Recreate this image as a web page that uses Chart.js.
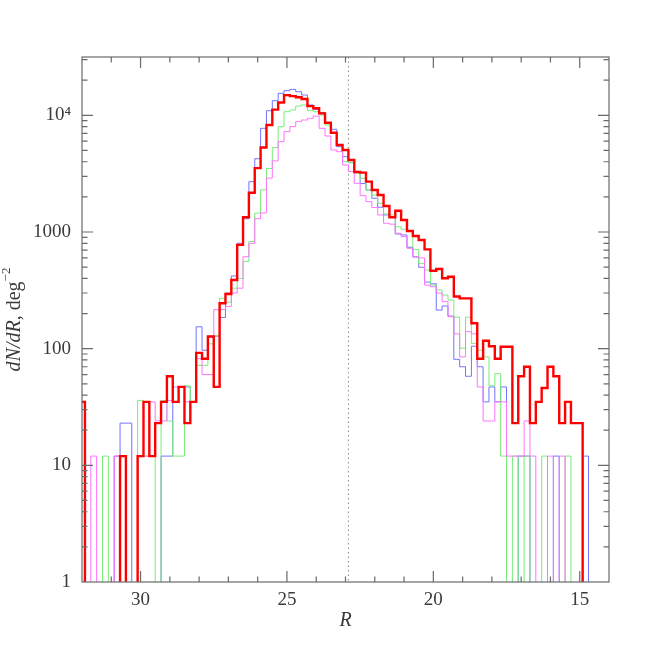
<!DOCTYPE html>
<html lang="en">
<head>
<meta charset="UTF-8">
<title>dN/dR vs R</title>
<script src="https://cdn.jsdelivr.net/npm/chart.js@4.4.1/dist/chart.umd.min.js"></script>
<style>
  body { margin: 0; background: #fff; }
  #wrap { width: 664px; height: 664px; }
</style>
</head>
<body>
<div id="wrap"><canvas id="chart"></canvas></div>
<script>
// bin centres (R, 0.2 mag bins)
const binCenters = [32.0, 31.8, 31.6, 31.4, 31.2, 31.0, 30.8, 30.6, 30.4, 30.2,
  30.0, 29.8, 29.6, 29.4, 29.2, 29.0, 28.8, 28.6, 28.4, 28.2,
  28.0, 27.8, 27.6, 27.4, 27.2, 27.0, 26.8, 26.6, 26.4, 26.2,
  26.0, 25.8, 25.6, 25.4, 25.2, 25.0, 24.8, 24.6, 24.4, 24.2,
  24.0, 23.8, 23.6, 23.4, 23.2, 23.0, 22.8, 22.6, 22.4, 22.2,
  22.0, 21.8, 21.6, 21.4, 21.2, 21.0, 20.8, 20.6, 20.4, 20.2,
  20.0, 19.8, 19.6, 19.4, 19.2, 19.0, 18.8, 18.6, 18.4, 18.2,
  18.0, 17.8, 17.6, 17.4, 17.2, 17.0, 16.8, 16.6, 16.4, 16.2,
  16.0, 15.8, 15.6, 15.4, 15.2, 15.0, 14.8, 14.6, 14.4, 14.2, 14.0];

// dN/dR, deg^-2
const redCounts = [35, 0, 0, 0, 0, 0, 0, 12, 0, 0,
  12, 35, 12, 23, 35, 58, 35, 47, 23, 35,
  92, 82, 127, 47, 245, 294, 388, 775, 1336, 2173,
  3530, 5300, 8260, 11200, 12900, 14900, 14600, 14300, 13800, 12000,
  11500, 10400, 8650, 7100, 5570, 5050, 4140, 3270, 3230, 2700,
  2290, 2075, 1670, 1336, 1523, 1268, 1020, 924, 854, 710,
  466, 482, 401, 414, 280, 270, 270, 165, 82, 117,
  105, 82, 104, 104, 23, 58, 70, 23, 35, 46,
  70, 58, 23, 35, 23, 23, 0, 0, 0, 0, 0];

const blueCounts = [0, 0, 0, 0, 0, 0, 12, 23, 23, 0,
  0, 0, 0, 0, 12, 12, 35, 47, 47, 35,
  154, 97, 128, 128, 185, 300, 420, 800, 1300, 2700,
  4250, 7740, 10960, 13360, 15440, 16260, 16700, 15950, 14930, 12270,
  11250, 10540, 8540, 7590, 5390, 4420, 3930, 3300, 2600, 2290,
  1945, 1630, 1400, 1355, 962, 943, 740, 610, 498, 372,
  360, 214, 232, 190, 81, 70, 58, 105, 70, 35,
  47, 35, 47, 0, 0, 12, 12, 0, 0, 0,
  0, 12, 0, 0, 0, 0, 12, 0, 0, 0, 0];

const greenCounts = [0, 0, 0, 0, 12, 0, 0, 0, 0, 0,
  36, 12, 12, 0, 36, 24, 12, 12, 48, 35,
  72, 72, 110, 130, 270, 250, 330, 400, 560, 830,
  1450, 2300, 3500, 5300, 8000, 10740, 11110, 12020, 12270, 10960,
  10740, 10070, 8260, 7010, 5570, 4010, 3950, 3200, 2880, 2290,
  2075, 1762, 1430, 1400, 1110, 1055, 1010, 710, 538, 472,
  351, 318, 288, 261, 186, 101, 186, 111, 97, 85,
  48, 61, 12, 0, 12, 0, 12, 0, 0, 12,
  0, 0, 0, 12, 0, 0, 0, 0, 0, 0, 0];

const magentaCounts = [0, 0, 12, 0, 0, 0, 12, 0, 0, 0,
  12, 12, 35, 24, 24, 36, 47, 47, 35, 35,
  82, 60, 60, 216, 216, 230, 300, 330, 614, 800,
  1300, 1460, 2900, 4070, 5950, 7240, 8000, 8830, 9120, 9420,
  9860, 7740, 6650, 5050, 4880, 3750, 3300, 2615, 2050, 1820,
  1620, 1400, 1188, 1167, 975, 912, 725, 615, 600, 351,
  340, 300, 253, 188, 134, 85, 140, 134, 47, 24,
  24, 35, 35, 12, 12, 12, 24, 12, 0, 0,
  12, 0, 12, 0, 0, 0, 0, 0, 0, 0, 0];

const xTickValues = [30, 25, 20, 15];
const yTickValues = [1, 10, 100, 1000, 10000];
const yTickLabels = ['1', '10', '100', '1000', '10⁴'];
const cutR = 22.9;           // dotted line
const xMin = 14, xMax = 32;
const yMin = 1, yMax = 31623;

// empty bins have no log value: send them below the axis so the step drops to the bottom
const emptyLevel = 0.1;
function toPoints(counts) {
  return binCenters.map((r, i) => ({ x: r, y: counts[i] > 0 ? counts[i] : emptyLevel }));
}

function histo(label, counts, color, width, order) {
  return {
    label: label,
    data: toPoints(counts),
    borderColor: color,
    borderWidth: width,
    stepped: 'middle',
    pointRadius: 0,
    fill: false,
    clip: 0,
    order: order
  };
}

const serif = '"Liberation Serif", "DejaVu Serif", serif';
const inkColor = '#3a3a3a';

// frame with inward ticks on all four sides, dotted cut line, y title
const frameTicks = {
  id: 'frameTicks',
  beforeDatasetsDraw(chart) {
    const { ctx, chartArea: a, scales: { x } } = chart;
    const cx = x.getPixelForValue(cutR);
    ctx.save();
    ctx.strokeStyle = '#8a8a8a';
    ctx.lineWidth = 1;
    ctx.setLineDash([1.5, 3]);
    ctx.beginPath();
    ctx.moveTo(cx, a.top);
    ctx.lineTo(cx, a.bottom);
    ctx.stroke();
    ctx.restore();
  },
  afterDatasetsDraw(chart) {
    const { ctx, chartArea: a, scales: { x, y } } = chart;
    ctx.save();
    ctx.strokeStyle = '#6a6a6a';
    ctx.lineWidth = 1.2;
    ctx.strokeRect(a.left, a.top, a.right - a.left, a.bottom - a.top);

    ctx.beginPath();
    for (let r = Math.ceil(xMin); r <= xMax; r++) {
      const px = x.getPixelForValue(r);
      if (px <= a.left + 1 || px >= a.right - 1) continue;
      const len = r % 5 === 0 ? 11 : 5.5;
      ctx.moveTo(px, a.bottom); ctx.lineTo(px, a.bottom - len);
      ctx.moveTo(px, a.top); ctx.lineTo(px, a.top + len);
    }
    for (let d = 1; d <= 10000; d *= 10) {
      for (let m = 1; m <= 9; m++) {
        const v = d * m;
        if (v > yMax) break;
        const py = y.getPixelForValue(v);
        if (py >= a.bottom - 1 || py <= a.top + 1) continue;
        const len = m === 1 ? 11 : 5.5;
        ctx.moveTo(a.left, py); ctx.lineTo(a.left + len, py);
        ctx.moveTo(a.right, py); ctx.lineTo(a.right - len, py);
      }
    }
    ctx.stroke();
    ctx.restore();
  },
  afterDraw(chart) {
    const { ctx, chartArea: a } = chart;
    const parts = [
      { t: 'dN/dR', f: 'italic 20px ' + serif, dy: 0 },
      { t: ', deg', f: '20px ' + serif, dy: 0 },
      { t: '−2', f: '13px ' + serif, dy: -8 }
    ];
    ctx.save();
    let total = 0;
    parts.forEach(p => { ctx.font = p.f; p.w = ctx.measureText(p.t).width; total += p.w; });
    ctx.translate(15, (a.top + a.bottom) / 2);
    ctx.rotate(-Math.PI / 2);
    ctx.fillStyle = inkColor;
    ctx.textBaseline = 'middle';
    let cur = -total / 2;
    parts.forEach(p => {
      ctx.font = p.f;
      ctx.fillText(p.t, cur, p.dy);
      cur += p.w;
    });
    ctx.restore();
  }
};

new Chart(document.getElementById('chart'), {
  type: 'line',
  data: {
    datasets: [
      histo('blue', blueCounts, '#7272ff', 1, 3),
      histo('green', greenCounts, '#78ec78', 1, 2),
      histo('magenta', magentaCounts, '#ff72ff', 1, 1),
      histo('red', redCounts, '#ff0000', 2.4, 0)
    ]
  },
  options: {
    responsive: true,
    maintainAspectRatio: false,
    animation: false,
    layout: { padding: { top: 57, right: 55, left: 0, bottom: 0 } },
    plugins: { legend: { display: false }, tooltip: { enabled: false } },
    scales: {
      x: {
        type: 'linear',
        reverse: true,
        min: xMin,
        max: xMax,
        grid: { display: false, drawTicks: false },
        border: { display: false },
        afterBuildTicks: s => { s.ticks = xTickValues.map(v => ({ value: v })); },
        afterFit: s => { s.height = 82; },
        ticks: {
          padding: 7,
          maxRotation: 0,
          color: inkColor,
          font: { family: serif, size: 19 },
          callback: v => String(v)
        },
        title: {
          display: true,
          text: 'R',
          color: inkColor,
          font: { family: serif, size: 20, style: 'italic' },
          padding: { top: 0, bottom: 31 }
        }
      },
      y: {
        type: 'logarithmic',
        min: yMin,
        max: yMax,
        grid: { display: false, drawTicks: false },
        border: { display: false },
        afterBuildTicks: s => { s.ticks = yTickValues.map(v => ({ value: v })); },
        afterFit: s => { s.width = 82; },
        ticks: {
          padding: 11,
          color: inkColor,
          font: { family: serif, size: 19 },
          callback: v => yTickLabels[yTickValues.indexOf(v)]
        }
      }
    }
  },
  plugins: [frameTicks]
});
</script>
</body>
</html>
